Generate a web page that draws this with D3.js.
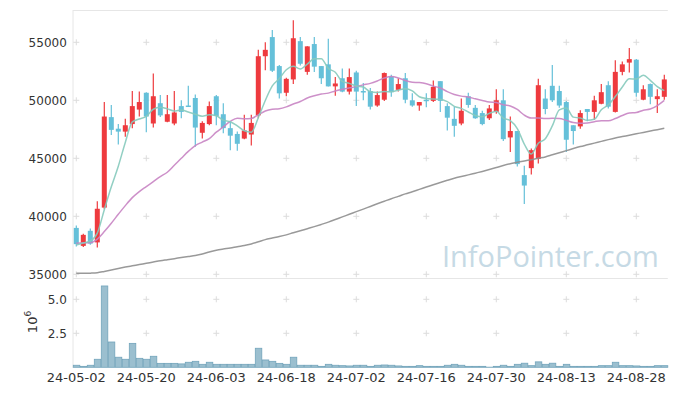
<!DOCTYPE html>
<html>
<head>
<meta charset="utf-8">
<script src="https://cdn.jsdelivr.net/npm/d3@7"></script>
<style>
  html, body { margin: 0; padding: 0; background: #fff; }
  svg { display: block; font-family: "DejaVu Sans", sans-serif; }
</style>
</head>
<body>
<div id="chart"></div>
<script>

// trading days, yy-mm-dd
const dates = [
	"24-05-02","24-05-03","24-05-07","24-05-08","24-05-09","24-05-10","24-05-13","24-05-14","24-05-16","24-05-17",
	"24-05-20","24-05-21","24-05-22","24-05-23","24-05-24","24-05-27","24-05-28","24-05-29","24-05-30","24-05-31",
	"24-06-03","24-06-04","24-06-05","24-06-07","24-06-10","24-06-11","24-06-12","24-06-13","24-06-14","24-06-17",
	"24-06-18","24-06-19","24-06-20","24-06-21","24-06-24","24-06-25","24-06-26","24-06-27","24-06-28","24-07-01",
	"24-07-02","24-07-03","24-07-04","24-07-05","24-07-08","24-07-09","24-07-10","24-07-11","24-07-12","24-07-15",
	"24-07-16","24-07-17","24-07-18","24-07-19","24-07-22","24-07-23","24-07-24","24-07-25","24-07-26","24-07-29",
	"24-07-30","24-07-31","24-08-01","24-08-02","24-08-05","24-08-06","24-08-07","24-08-08","24-08-09","24-08-12",
	"24-08-13","24-08-14","24-08-16","24-08-19","24-08-20","24-08-21","24-08-22","24-08-23","24-08-26","24-08-27",
	"24-08-28","24-08-29","24-08-30","24-09-02","24-09-03"
];

const opens = [
	39000,37450,38750,37750,40750,48550,47550,47300,47950,49200,
	50650,48000,49750,48150,48000,49500,49550,50200,47200,47950,
	50350,48800,47600,47100,46700,47050,48700,53800,55450,52950,
	50650,51800,55100,52450,54850,52950,53100,51200,51900,50750,
	52400,50800,50800,49550,50050,52050,50900,51900,50000,49550,
	50050,49950,51650,49500,48400,48000,50350,49350,48900,48450,
	49000,50000,46800,47350,43550,44150,44950,50150,51250,50800,
	49850,47850,47750,49250,49000,49700,51300,49000,52450,53250,
	53500,50050,51400,50100,50300
];
const highs = [
	39200,38500,38950,41300,49850,49600,47950,48400,50800,50750,
	50700,52300,50450,50450,50800,50000,51250,50500,48200,49900,
	50450,49750,48200,47300,48750,48750,54350,55000,56050,53050,
	51950,56900,55450,54650,55450,52950,55300,52000,52750,52750,
	52550,51500,51050,50750,52400,52200,51900,52350,50600,49850,
	50600,51700,51650,49750,49450,50150,50650,49600,49100,49600,
	50950,50950,48600,47350,44350,45850,51850,50950,53050,51250,
	49950,47850,49150,49250,50400,51400,51650,53450,53350,54500,
	53550,51300,51450,50950,52200
];
const lows = [
	37400,37350,37550,37300,40600,47000,46200,46850,47600,48600,
	47250,47650,48550,48100,47850,48450,49450,46000,46700,47850,
	47850,47150,45700,45650,46650,46100,48450,52600,52450,50150,
	50350,51400,53000,52200,52450,51400,51200,50400,50700,50500,
	49500,50000,49200,49450,49950,50300,50750,49750,49450,49100,
	49400,49850,49000,47400,46850,47850,49350,48400,47850,48300,
	48850,46500,45550,44300,41050,43600,44550,48800,49850,49350,
	45550,46200,47550,48200,48300,49650,49300,48950,52150,52400,
	50300,50000,49650,48900,50050
];
const closes = [
	37600,38400,37650,40650,48600,47450,47300,47850,49500,49850,
	48600,50350,48700,48800,48950,49000,49500,47650,48050,49500,
	48650,47600,46950,46250,47400,48050,53800,54350,52550,50600,
	51850,55350,53150,54650,52900,51900,51200,51450,50750,52000,
	50750,50750,49450,50450,52350,50700,51400,50050,49550,49850,
	49950,51150,49950,48500,47800,49100,49600,48450,47950,49300,
	50000,46650,47350,44500,42650,45700,51300,49250,50000,49550,
	46600,47350,48900,49000,50000,50700,49450,52450,53100,53550,
	50650,50950,50300,50350,51800
];

// moving averages as drawn (5 / 20 / long)
const ma5 = [
	37530,37700,37870,38550,40570,42540,44320,46370,48140,48390,
	48620,49230,49400,49260,49080,49170,48990,48790,48630,48750,
	48670,48290,48150,47790,47370,47250,48500,49980,51240,51870,
	52630,52940,52700,53120,53580,53590,52750,52420,51630,51460,
	51230,51140,50740,50680,50750,50740,50870,51000,50810,50310,
	50160,50110,50090,49880,49480,49300,48990,48690,48580,48870,
	49060,48470,48250,47560,46230,45370,46300,46680,47790,49170,
	49340,48550,48470,48270,48360,49190,49610,50320,51140,51850,
	51840,52150,51720,51180,50830
];
const ma20 = [
	37670,37730,37730,38040,38680,39400,40170,40920,41610,42130,
	42560,42990,43420,43800,44400,45000,45600,46100,46400,46700,
	47250,47710,48180,48460,48400,48430,48750,49080,49230,49270,
	49430,49680,49900,50200,50390,50540,50620,50810,50950,51070,
	51180,51330,51460,51670,51920,52050,51930,51710,51560,51530,
	51430,51220,51060,50750,50500,50360,50280,50130,49990,49850,
	49820,49610,49510,49210,48720,48470,48470,48430,48450,48440,
	48270,48080,48030,48050,48160,48240,48230,48430,48690,48900,
	48940,49150,49250,49550,50000
];
const maLong = [
	35080,35080,35100,35140,35250,35370,35500,35620,35730,35840,
	35950,36060,36170,36260,36350,36440,36530,36620,36750,36920,
	37080,37180,37260,37380,37480,37620,37800,37990,38120,38250,
	38400,38580,38750,38930,39110,39300,39500,39720,39950,40170,
	40400,40620,40850,41080,41300,41520,41720,41930,42120,42320,
	42520,42720,42910,43100,43280,43430,43570,43720,43870,44030,
	44200,44380,44530,44650,44770,44880,45000,45120,45300,45480,
	45660,45840,46010,46160,46310,46460,46610,46750,46870,46990,
	47110,47230,47350,47470,47590
];

// volume, millions of shares
const volumes = [
	0.15,0.07,0.15,0.59,5.98,1.86,0.74,0.59,1.76,0.66,
	0.59,0.81,0.29,0.29,0.29,0.25,0.37,0.44,0.22,0.37,
	0.22,0.22,0.22,0.22,0.22,0.22,1.40,0.54,0.44,0.29,
	0.22,0.74,0.15,0.15,0.15,0.07,0.22,0.15,0.12,0.10,
	0.15,0.15,0.07,0.15,0.17,0.15,0.10,0.07,0.07,0.12,
	0.07,0.07,0.07,0.15,0.22,0.15,0.07,0.07,0.07,0.01,
	0.07,0.15,0.07,0.22,0.30,0.12,0.40,0.22,0.30,0.07,
	0.22,0.07,0.07,0.07,0.07,0.12,0.12,0.37,0.12,0.12,
	0.10,0.07,0.07,0.12,0.12
];

const priceTicks = [ 35000, 40000, 45000, 50000, 55000 ];
const volTicks = [ 2.5, 5.0 ];
const dateTickIdx = [ 0, 10, 20, 30, 40, 50, 60, 70, 80 ];

///////////////////////////////////////////////////////////////////////

const width = 677, height = 396;
const left = 72.8, right = 667.8;

const svg = d3.select( "#chart" )
	.append( "svg" )
	.attr( "width", width )
	.attr( "height", height );

const x = d3.scaleBand()
	.domain( dates )
	.range( [ left, right ] )
	.padding( 0 );
const cx = d => x( d ) + x.bandwidth() / 2;

const yP = d3.scaleLinear()
	.domain( [ 35000, 55000 ] )
	.range( [ 274.3, 42.3 ] );

const yV = d3.scaleLinear()
	.domain( [ 0, 5 ] )
	.range( [ 367.3, 299.3 ] );

// frame
const frame = "#e6e6e6";
svg.append( "line" ).attr( "x1", 73 ).attr( "x2", 73 ).attr( "y1", 10 ).attr( "y2", 368 )
	.attr( "stroke", frame );
svg.append( "line" ).attr( "x1", 73 ).attr( "x2", right ).attr( "y1", 10.5 ).attr( "y2", 10.5 )
	.attr( "stroke", frame );
svg.append( "line" ).attr( "x1", 73 ).attr( "x2", right ).attr( "y1", 278.5 ).attr( "y2", 278.5 )
	.attr( "stroke", frame );

// grid crosses
const crossXs = dateTickIdx.map( i => cx( dates[ i ] ) );
const crossPts = [];
crossXs.forEach( xx => {
	priceTicks.forEach( v => crossPts.push( [ xx, yP( v ) ] ) );
	volTicks.forEach( v => crossPts.push( [ xx, yV( v ) ] ) );
} );
svg.append( "g" )
	.selectAll( "path" )
	.data( crossPts )
	.join( "path" )
		.attr( "d", d => "M" + ( d[ 0 ] - 3 ) + "," + d[ 1 ] + "h6M" + d[ 0 ] + "," + ( d[ 1 ] - 3 ) + "v6" )
		.attr( "stroke", "#dcdcdc" )
		.attr( "stroke-width", 1 );

// watermark: size it so its natural width fills 442..660
const wm = svg.append( "text" )
	.attr( "x", 442 )
	.attr( "y", 267 )
	.attr( "font-family", "'Open Sans', sans-serif" )
	.attr( "font-size", 30 )
	.attr( "fill", "#c6dae5" )
	.text( "InfoPointer.com" );
const wmLen = wm.node().getComputedTextLength();
if( wmLen > 0 ) wm.attr( "font-size", 30 * 217 / wmLen );

// candles
const candles = d3.range( dates.length ).map( i => ( {
	date: dates[ i ], o: opens[ i ], h: highs[ i ], l: lows[ i ], c: closes[ i ]
} ) );
const upCol = "#ee3a3e", downCol = "#65c0d9";
const colOf = d => d.c >= d.o ? upCol : downCol;

const gC = svg.append( "g" );
gC.selectAll( "line" )
	.data( candles )
	.join( "line" )
		.attr( "x1", d => cx( d.date ) )
		.attr( "x2", d => cx( d.date ) )
		.attr( "y1", d => yP( d.h ) )
		.attr( "y2", d => yP( d.l ) )
		.attr( "stroke", colOf )
		.attr( "stroke-width", 1.2 );
gC.selectAll( "rect" )
	.data( candles )
	.join( "rect" )
		.attr( "x", d => cx( d.date ) - 2.5 )
		.attr( "width", 5 )
		.attr( "y", d => yP( Math.max( d.o, d.c ) ) )
		.attr( "height", d => Math.max( 1.5, Math.abs( yP( d.o ) - yP( d.c ) ) ) )
		.attr( "fill", colOf );

// moving average lines
const lineOf = d3.line()
	.x( ( d, i ) => cx( dates[ i ] ) )
	.y( d => yP( d ) )
	.curve( d3.curveMonotoneX );

[ [ maLong, "#8e8e8e" ], [ ma20, "#c884c3" ], [ ma5, "#86cabd" ] ].forEach( ( [ arr, col ] ) => {
	svg.append( "path" )
		.datum( arr )
		.attr( "d", lineOf )
		.attr( "fill", "none" )
		.attr( "stroke", col )
		.attr( "stroke-width", 1.5 )
		.attr( "stroke-opacity", 0.9 );
} );

// volume bars
svg.append( "g" )
	.selectAll( "rect" )
	.data( volumes )
	.join( "rect" )
		.attr( "x", ( d, i ) => x( dates[ i ] ) + 0.5 )
		.attr( "width", x.bandwidth() - 0.5 )
		.attr( "y", d => yV( d ) )
		.attr( "height", d => yV( 0 ) - yV( d ) )
		.attr( "fill", "#9bbfcf" )
		.attr( "stroke", "#72a4bb" )
		.attr( "stroke-width", 0.8 );

// axes
const txt = "#333";
const gYP = svg.append( "g" )
	.attr( "transform", "translate(" + left + ",0)" )
	.call( d3.axisLeft( yP ).tickValues( priceTicks ).tickSize( 0 ).tickPadding( 6 ).tickFormat( d3.format( "d" ) ) );
const gYV = svg.append( "g" )
	.attr( "transform", "translate(" + left + ",0)" )
	.call( d3.axisLeft( yV ).tickValues( volTicks ).tickSize( 0 ).tickPadding( 6 ).tickFormat( d3.format( ".1f" ) ) );
const gX = svg.append( "g" )
	.attr( "transform", "translate(0," + yV( 0 ) + ")" )
	.call( d3.axisBottom( x ).tickValues( dateTickIdx.map( i => dates[ i ] ) ).tickSize( 0 ).tickPadding( 5 ) );

[ gYP, gYV, gX ].forEach( g => {
	g.select( ".domain" ).remove();
	g.selectAll( "text" )
		.attr( "fill", txt )
		.attr( "font-family", "'DejaVu Sans', sans-serif" )
		.attr( "font-size", 12 );
} );
gX.selectAll( "text" ).attr( "font-size", 13 );

// volume unit
const unit = svg.append( "text" )
	.attr( "transform", "translate(37,322) rotate(-90)" )
	.attr( "text-anchor", "middle" )
	.attr( "font-size", 13 )
	.attr( "fill", txt );
unit.append( "tspan" ).text( "10" );
unit.append( "tspan" ).attr( "dy", -6 ).attr( "font-size", 9 ).text( "6" );

</script>
</body>
</html>
